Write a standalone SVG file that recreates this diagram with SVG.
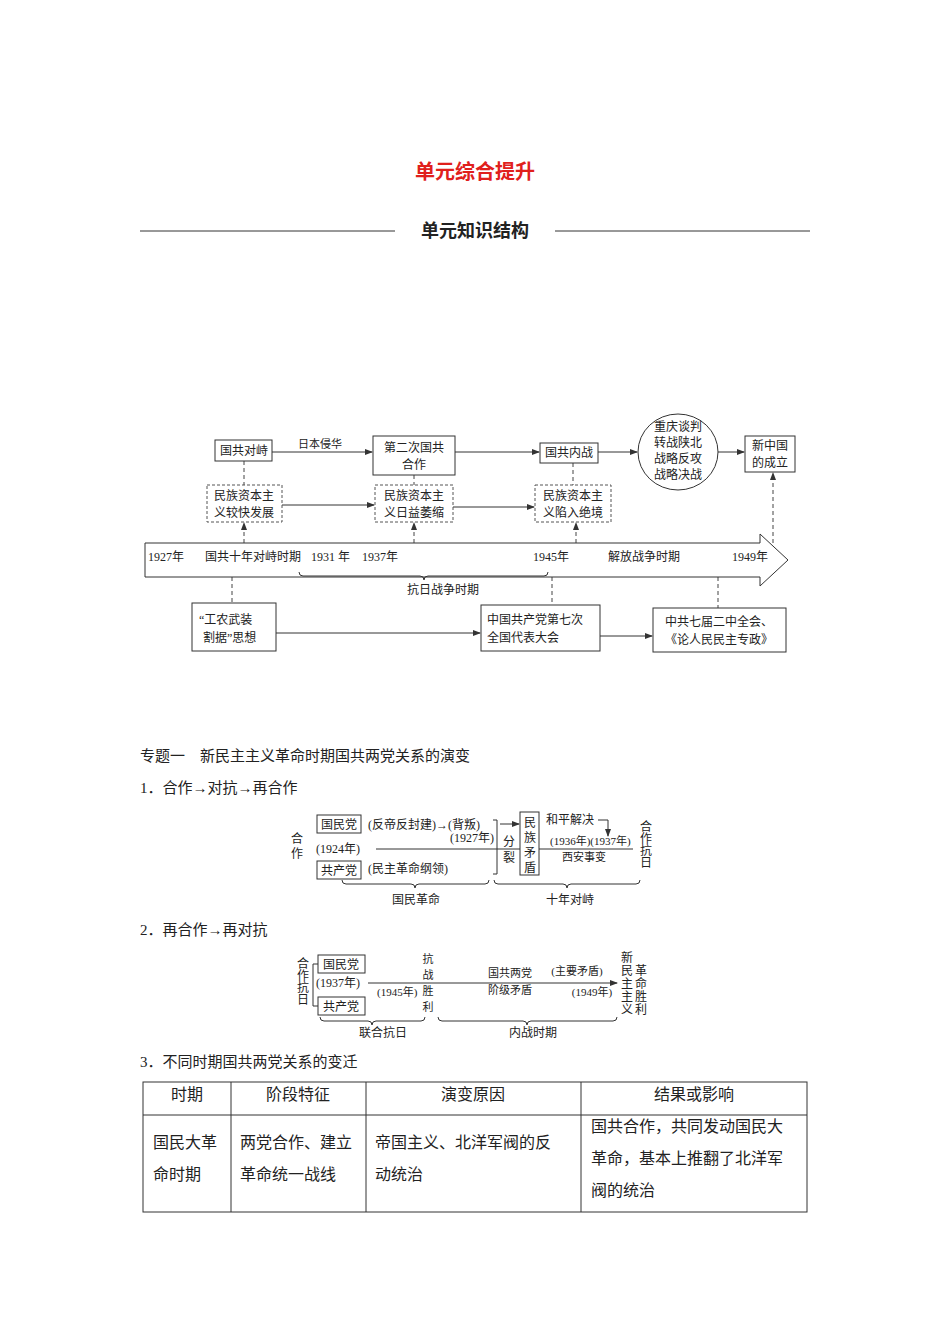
<svg xmlns="http://www.w3.org/2000/svg" width="950" height="1344" viewBox="0 0 950 1344">
<style>
text{font-family:"Liberation Serif","Noto Sans CJK SC",serif;fill:#222;font-size:12px}
.b{fill:#fff;stroke:#333;stroke-width:1}
.d{fill:#fff;stroke:#555;stroke-width:1;stroke-dasharray:3,2}
.l{stroke:#333;stroke-width:1;fill:none}
.dl{stroke:#444;stroke-width:1;fill:none;stroke-dasharray:4,3}
.m{font-size:15px}
.t{font-size:16px}
.s{font-size:11px}
</style>
<defs>
<marker id="a" markerWidth="8" markerHeight="6" refX="7" refY="3" orient="auto"><path d="M0,0L8,3L0,6z" fill="#333"/></marker>
</defs>
<rect width="950" height="1344" fill="#fff"/>
<text x="475" y="179" text-anchor="middle" style="font-size:20px;font-weight:bold;fill:#e0201c">单元综合提升</text>
<text x="475" y="237" text-anchor="middle" style="font-size:18px;font-weight:bold">单元知识结构</text>
<line x1="140" y1="231" x2="395" y2="231" class="l"/>
<line x1="555" y1="231" x2="810" y2="231" class="l"/>

<g id="connectors">
<line x1="272" y1="452" x2="372" y2="452" class="l" marker-end="url(#a)"/>
<line x1="455" y1="452" x2="539" y2="452" class="l" marker-end="url(#a)"/>
<line x1="598" y1="452" x2="637" y2="452" class="l" marker-end="url(#a)"/>
<line x1="718" y1="452" x2="744" y2="452" class="l" marker-end="url(#a)"/>
<line x1="282" y1="505" x2="374" y2="505" class="l" marker-end="url(#a)"/>
<line x1="453" y1="507" x2="534" y2="507" class="l" marker-end="url(#a)"/>
<line x1="244" y1="461" x2="244" y2="485" class="dl"/>
<line x1="414" y1="475" x2="414" y2="485" class="dl"/>
<line x1="573" y1="463" x2="573" y2="485" class="dl"/>
<line x1="244" y1="543" x2="244" y2="523" class="dl" marker-end="url(#a)"/>
<line x1="414" y1="543" x2="414" y2="523" class="dl" marker-end="url(#a)"/>
<line x1="576" y1="543" x2="576" y2="523" class="dl" marker-end="url(#a)"/>
<line x1="773" y1="543" x2="773" y2="473" class="dl" marker-end="url(#a)"/>
<line x1="232" y1="577" x2="232" y2="603" class="dl"/>
<line x1="552" y1="577" x2="552" y2="605" class="dl"/>
<line x1="718" y1="577" x2="718" y2="608" class="dl"/>
<line x1="276" y1="633" x2="480" y2="633" class="l" marker-end="url(#a)"/>
<line x1="600" y1="636" x2="652" y2="636" class="l" marker-end="url(#a)"/>
</g>
<text x="320" y="448" text-anchor="middle" class="s">日本侵华</text>

<g id="n1"><rect x="215" y="440" width="57" height="21" class="b"/><text x="244" y="455" text-anchor="middle">国共对峙</text></g>
<g id="n2"><rect x="373" y="436" width="82" height="39" class="b"/><text x="414" y="452" text-anchor="middle">第二次国共</text><text x="414" y="469" text-anchor="middle">合作</text></g>
<g id="n3"><rect x="540" y="443" width="58" height="20" class="b"/><text x="569" y="457" text-anchor="middle">国共内战</text></g>
<g id="n4"><ellipse cx="678" cy="452" rx="40" ry="38" class="b"/><text x="678" y="431" text-anchor="middle">重庆谈判</text><text x="678" y="447" text-anchor="middle">转战陕北</text><text x="678" y="463" text-anchor="middle">战略反攻</text><text x="678" y="479" text-anchor="middle">战略决战</text></g>
<g id="n5"><rect x="745" y="436" width="50" height="36" class="b"/><text x="770" y="450" text-anchor="middle">新中国</text><text x="770" y="467" text-anchor="middle">的成立</text></g>
<g id="d1"><rect x="207" y="485" width="75" height="37" class="d"/><text x="244" y="500" text-anchor="middle">民族资本主</text><text x="244" y="517" text-anchor="middle">义较快发展</text></g>
<g id="d2"><rect x="375" y="485" width="78" height="37" class="d"/><text x="414" y="500" text-anchor="middle">民族资本主</text><text x="414" y="517" text-anchor="middle">义日益萎缩</text></g>
<g id="d3"><rect x="535" y="485" width="76" height="37" class="d"/><text x="573" y="500" text-anchor="middle">民族资本主</text><text x="573" y="517" text-anchor="middle">义陷入绝境</text></g>

<g id="timeline">
<path d="M145,543H760V534L788,560L760,586V577H145Z" class="b"/>
<text x="148" y="561">1927年</text><text x="205" y="561">国共十年对峙时期</text><text x="311" y="561">1931 年</text><text x="362" y="561">1937年</text><text x="533" y="561">1945年</text><text x="608" y="561">解放战争时期</text><text x="732" y="561">1949年</text>
<path d="M299,572Q299,576 303,576H420Q424,576 424,580Q424,576 428,576H544Q548,576 548,572" class="l"/>
<text x="443" y="594" text-anchor="middle">抗日战争时期</text>
</g>
<g id="b1"><rect x="192" y="603" width="84" height="48" class="b"/><text x="199" y="624">“工农武装</text><text x="203" y="642">割据”思想</text></g>
<g id="b2"><rect x="481" y="605" width="119" height="46" class="b"/><text x="487" y="624">中国共产党第七次</text><text x="487" y="642">全国代表大会</text></g>
<g id="b3"><rect x="653" y="608" width="133" height="44" class="b"/><text x="719" y="626" text-anchor="middle">中共七届二中全会、</text><text x="719" y="644" text-anchor="middle">《论人民民主专政》</text></g>

<text x="140" y="761" class="m">专题一　新民主主义革命时期国共两党关系的演变</text>
<text x="140" y="793" class="m">1．合作→对抗→再合作</text>
<text x="140" y="935" class="m">2．再合作→再对抗</text>
<text x="140" y="1067" class="m">3．不同时期国共两党关系的变迁</text>

<g id="diag2">
<text x="297" y="843" text-anchor="middle">合</text><text x="297" y="858" text-anchor="middle">作</text>
<rect x="317" y="815" width="44" height="18" class="b"/><text x="339" y="829" text-anchor="middle">国民党</text>
<text x="368" y="829">(反帝反封建)→(背叛)</text>
<text x="450" y="842">(1927年)</text>
<text x="316" y="853">(1924年)</text>
<line x1="376" y1="849" x2="520" y2="849" class="l"/><line x1="539" y1="849" x2="633" y2="849" class="l"/>
<rect x="317" y="861" width="44" height="18" class="b"/><text x="339" y="875" text-anchor="middle">共产党</text>
<text x="368" y="873">(民主革命纲领)</text>
<path d="M493,820H497V874H493" class="l"/>
<text x="509" y="846" text-anchor="middle">分</text><text x="509" y="862" text-anchor="middle">裂</text>
<line x1="500" y1="824" x2="519" y2="824" class="l" marker-end="url(#a)"/>
<rect x="520" y="812" width="19" height="63" class="b"/>
<text x="530" y="827" text-anchor="middle">民</text><text x="530" y="842" text-anchor="middle">族</text><text x="530" y="857" text-anchor="middle">矛</text><text x="530" y="872" text-anchor="middle">盾</text>
<text x="546" y="824">和平解决</text>
<path d="M598,820H608V836" class="l" marker-end="url(#a)"/>
<text x="550" y="845" class="s">(1936年)(1937年)</text>
<text x="562" y="861" class="s">西安事变</text>
<text x="646" y="831" text-anchor="middle">合</text><text x="646" y="843" text-anchor="middle">作</text><text x="646" y="855" text-anchor="middle">抗</text><text x="646" y="867" text-anchor="middle">日</text>
<path d="M342,880Q342,884 346,884H411Q415,884 415,888Q415,884 419,884H485Q489,884 489,880" class="l"/>
<path d="M494,880Q494,884 498,884H563Q567,884 567,888Q567,884 571,884H636Q640,884 640,880" class="l"/>
<text x="416" y="904" text-anchor="middle">国民革命</text>
<text x="570" y="904" text-anchor="middle">十年对峙</text>
</g>

<g id="diag3">
<text x="303" y="968" text-anchor="middle">合</text><text x="303" y="980" text-anchor="middle">作</text><text x="303" y="992" text-anchor="middle">抗</text><text x="303" y="1004" text-anchor="middle">日</text>
<path d="M318,964H313V1006H318" class="l"/>
<rect x="318" y="955" width="47" height="18" class="b"/><text x="341" y="969" text-anchor="middle">国民党</text>
<text x="316" y="987">(1937年)</text>
<rect x="318" y="997" width="47" height="18" class="b"/><text x="341" y="1011" text-anchor="middle">共产党</text>
<line x1="368" y1="983" x2="617" y2="983" class="l" marker-end="url(#a)"/>
<text x="377" y="996" class="s">(1945年)</text>
<text x="428" y="963" text-anchor="middle" class="s">抗</text><text x="428" y="979" text-anchor="middle" class="s">战</text><text x="428" y="995" text-anchor="middle" class="s">胜</text><text x="428" y="1011" text-anchor="middle" class="s">利</text>
<text x="510" y="977" text-anchor="middle" class="s">国共两党</text>
<text x="510" y="994" text-anchor="middle" class="s">阶级矛盾</text>
<text x="577" y="975" text-anchor="middle" class="s">(主要矛盾)</text>
<text x="592" y="996" text-anchor="middle" class="s">(1949年)</text>
<text x="627" y="962" text-anchor="middle">新</text><text x="627" y="975" text-anchor="middle">民</text><text x="627" y="988" text-anchor="middle">主</text><text x="627" y="1001" text-anchor="middle">主</text><text x="627" y="1014" text-anchor="middle">义</text>
<text x="641" y="975" text-anchor="middle">革</text><text x="641" y="988" text-anchor="middle">命</text><text x="641" y="1001" text-anchor="middle">胜</text><text x="641" y="1014" text-anchor="middle">利</text>
<path d="M320,1017Q320,1021 324,1021H368Q372,1021 372,1025Q372,1021 376,1021H421Q425,1021 425,1017" class="l"/>
<path d="M438,1017Q438,1021 442,1021H523Q527,1021 527,1025Q527,1021 531,1021H613Q617,1021 617,1017" class="l"/>
<text x="383" y="1037" text-anchor="middle">联合抗日</text>
<text x="533" y="1037" text-anchor="middle">内战时期</text>
</g>

<g id="table">
<rect x="143" y="1082" width="664" height="130" class="l"/>
<line x1="143" y1="1115" x2="807" y2="1115" class="l"/>
<line x1="231" y1="1082" x2="231" y2="1212" class="l"/>
<line x1="366" y1="1082" x2="366" y2="1212" class="l"/>
<line x1="581" y1="1082" x2="581" y2="1212" class="l"/>
<text x="187" y="1100" text-anchor="middle" class="t">时期</text>
<text x="298" y="1100" text-anchor="middle" class="t">阶段特征</text>
<text x="473" y="1100" text-anchor="middle" class="t">演变原因</text>
<text x="694" y="1100" text-anchor="middle" class="t">结果或影响</text>
<text x="153" y="1148" class="t">国民大革</text><text x="153" y="1180" class="t">命时期</text>
<text x="240" y="1148" class="t">两党合作、建立</text><text x="240" y="1180" class="t">革命统一战线</text>
<text x="375" y="1148" class="t">帝国主义、北洋军阀的反</text><text x="375" y="1180" class="t">动统治</text>
<text x="591" y="1132" class="t">国共合作，共同发动国民大</text><text x="591" y="1164" class="t">革命，基本上推翻了北洋军</text><text x="591" y="1196" class="t">阀的统治</text>
</g>
</svg>
